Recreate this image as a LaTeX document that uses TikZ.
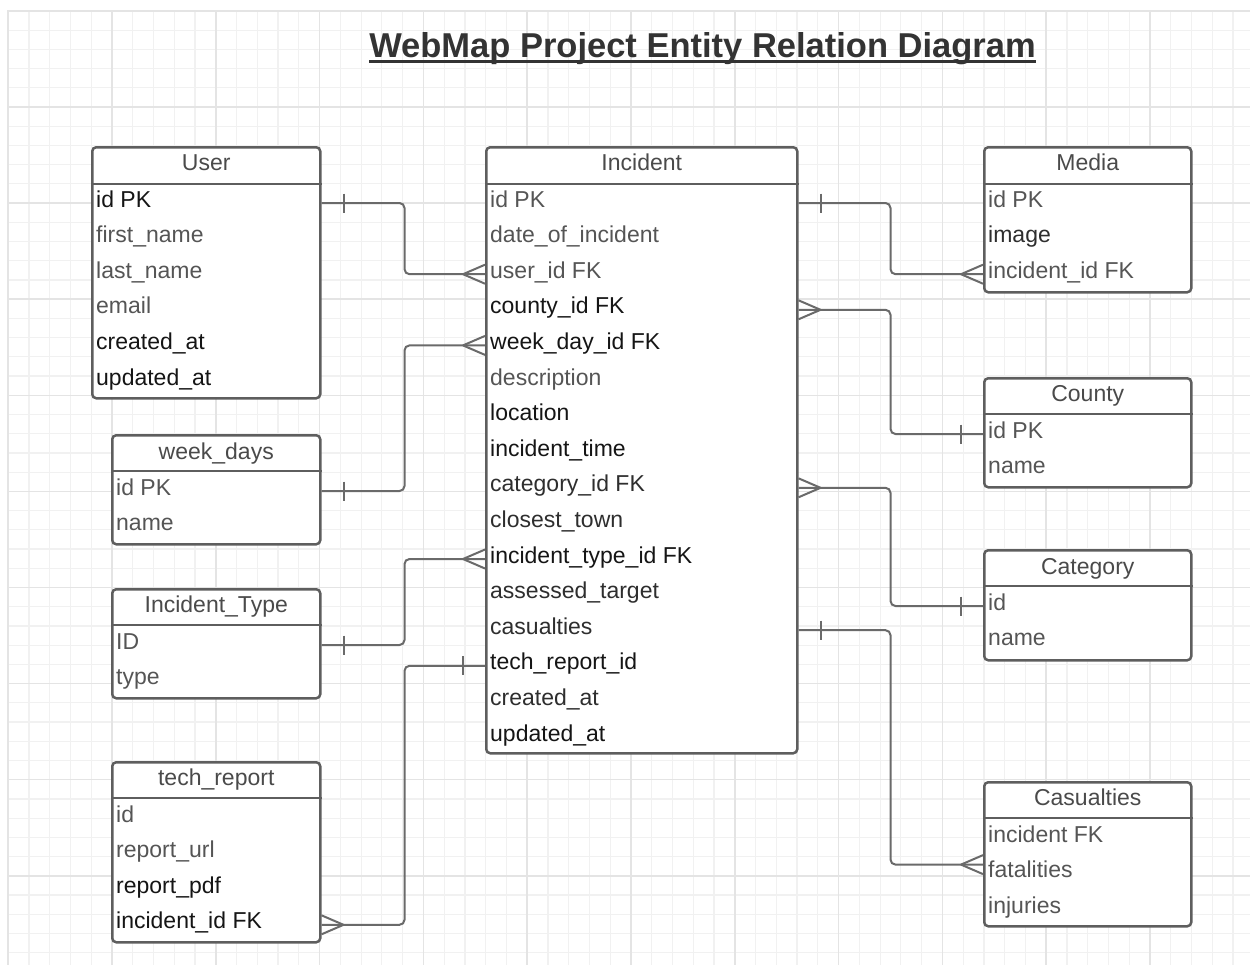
\documentclass[tikz,border=0pt]{standalone}
\usepackage{fontspec}
\setmainfont{Liberation Sans}
\definecolor{gridmin}{HTML}{F1F1F1}
\definecolor{gridmaj}{HTML}{E4E4E4}
\definecolor{boxline}{HTML}{5E5E5E}
\definecolor{relline}{HTML}{6A6A6A}
\definecolor{hd}{HTML}{4A4A4A}
\definecolor{dk}{HTML}{151515}
\definecolor{md}{HTML}{2E2E2E}
\definecolor{lt}{HTML}{555555}
\definecolor{ttl}{HTML}{333333}

\begin{document}
\begin{tikzpicture}[x=1pt, y=-1pt,
    tbl/.style={draw=boxline, fill=white, line width=2.5pt, rounded corners=4pt, anchor=north west, inner sep=0pt},
    sep/.style={draw=boxline, line width=2.5pt},
    hdr/.style={anchor=base, inner sep=0pt, text=hd, font=\fontsize{23}{27}\selectfont},
    fld/.style={anchor=base west, inner sep=0pt, text height=16pt, text depth=8pt, font=\fontsize{23}{27}\selectfont},
    rel/.style={draw=relline, line width=2pt, rounded corners=5pt},
    crowfoot/.pic={\draw[rel] (-22,0) -- (0,-9.5) (-22,0) -- (0,9.5);},
    onebar/.pic={\draw[rel] (22,-9.5) -- (22,9.5);}]
    \useasboundingbox (0,0) rectangle (1250,967);
    \fill[white] (0,0) rectangle (1250,967);
    % background grid
    \foreach \i in {0,...,59} \draw[gridmin, line width=1.2pt] ({8.2+20.76*\i},10) -- ({8.2+20.76*\i},965);
    \foreach \j in {0,...,49} \draw[gridmin, line width=1.2pt] (7,{10.9+19.22*\j}) -- (1250,{10.9+19.22*\j});
    \foreach \i in {0,...,11} \draw[gridmaj, line width=1.5pt] ({8.2+103.8*\i},10) -- ({8.2+103.8*\i},965);
    \foreach \j in {0,...,9} \draw[gridmaj, line width=1.5pt] (7,{10.9+96.1*\j}) -- (1250,{10.9+96.1*\j});

    \node[anchor=base, inner sep=0pt, text=ttl, font=\fontsize{34.5}{40}\selectfont\bfseries] (title) at (702.5,57) {WebMap Project Entity Relation Diagram};
    \draw[ttl, line width=3pt] ([yshift=-4.5]title.base west) -- ([yshift=-4.5]title.base east);

    % User
    \node[tbl, minimum width=228pt, minimum height=251pt] (user) at (91,146) {};
    \draw[sep] ([yshift=-38]user.north west) -- ([yshift=-38]user.north east);
    \node[hdr] at ([yshift=-24]user.north) {User};
    \foreach \t/\c [count=\i] in {id PK/dk, first\_name/lt, last\_name/lt, email/lt, created\_at/dk, updated\_at/dk}
        \node[fld, text=\c] (user-\i) at ([xshift=5, yshift={-(61+35.6*(\i-1))}]user.north west) {\t};

    % week_days
    \node[tbl, minimum width=208pt, minimum height=109pt] (weekdays) at (111,434) {};
    \draw[sep] ([yshift=-37]weekdays.north west) -- ([yshift=-37]weekdays.north east);
    \node[hdr] at ([yshift=-25]weekdays.north) {week\_days};
    \foreach \t/\c [count=\i] in {id PK/lt, name/lt}
        \node[fld, text=\c] (weekdays-\i) at ([xshift=5, yshift={-(61+35.6*(\i-1))}]weekdays.north west) {\t};

    % Incident_Type
    \node[tbl, minimum width=208pt, minimum height=109pt] (itype) at (111,588) {};
    \draw[sep] ([yshift=-37]itype.north west) -- ([yshift=-37]itype.north east);
    \node[hdr] at ([yshift=-24]itype.north) {Incident\_Type};
    \foreach \t/\c [count=\i] in {ID/lt, type/lt}
        \node[fld, text=\c] (itype-\i) at ([xshift=5, yshift={-(61+35.6*(\i-1))}]itype.north west) {\t};

    % tech_report
    \node[tbl, minimum width=208pt, minimum height=180pt] (techreport) at (111,761) {};
    \draw[sep] ([yshift=-37]techreport.north west) -- ([yshift=-37]techreport.north east);
    \node[hdr] at ([yshift=-24]techreport.north) {tech\_report};
    \foreach \t/\c [count=\i] in {id/lt, report\_url/lt, report\_pdf/dk, incident\_id FK/dk}
        \node[fld, text=\c] (techreport-\i) at ([xshift=5, yshift={-(61+35.6*(\i-1))}]techreport.north west) {\t};

    % Incident
    \node[tbl, minimum width=311pt, minimum height=606pt] (incident) at (485,146) {};
    \draw[sep] ([yshift=-38]incident.north west) -- ([yshift=-38]incident.north east);
    \node[hdr] at ([yshift=-24]incident.north) {Incident};
    \foreach \t/\c [count=\i] in {id PK/lt, date\_of\_incident/lt, user\_id FK/lt, county\_id FK/dk, week\_day\_id FK/dk,
        description/lt, location/dk, incident\_time/dk, category\_id FK/md, closest\_town/md, incident\_type\_id FK/dk,
        assessed\_target/md, casualties/md, tech\_report\_id/dk, created\_at/md, updated\_at/dk}
        \node[fld, text=\c] (incident-\i) at ([xshift=5, yshift={-(61+35.6*(\i-1))}]incident.north west) {\t};

    % Media
    \node[tbl, minimum width=207pt, minimum height=145pt] (media) at (983,146) {};
    \draw[sep] ([yshift=-38]media.north west) -- ([yshift=-38]media.north east);
    \node[hdr] at ([yshift=-24]media.north) {Media};
    \foreach \t/\c [count=\i] in {id PK/lt, image/md, incident\_id FK/lt}
        \node[fld, text=\c] (media-\i) at ([xshift=5, yshift={-(61+35.6*(\i-1))}]media.north west) {\t};

    % County
    \node[tbl, minimum width=207pt, minimum height=109pt] (county) at (983,377) {};
    \draw[sep] ([yshift=-37]county.north west) -- ([yshift=-37]county.north east);
    \node[hdr] at ([yshift=-24]county.north) {County};
    \foreach \t/\c [count=\i] in {id PK/lt, name/lt}
        \node[fld, text=\c] (county-\i) at ([xshift=5, yshift={-(61+35.6*(\i-1))}]county.north west) {\t};

    % Category
    \node[tbl, minimum width=207pt, minimum height=110pt] (category) at (983,549) {};
    \draw[sep] ([yshift=-37]category.north west) -- ([yshift=-37]category.north east);
    \node[hdr] at ([yshift=-25]category.north) {Category};
    \foreach \t/\c [count=\i] in {id/lt, name/lt}
        \node[fld, text=\c] (category-\i) at ([xshift=5, yshift={-(61+35.6*(\i-1))}]category.north west) {\t};

    % Casualties
    \node[tbl, minimum width=207pt, minimum height=144pt] (casualties) at (983,781) {};
    \draw[sep] ([yshift=-37]casualties.north west) -- ([yshift=-37]casualties.north east);
    \node[hdr] at ([yshift=-24]casualties.north) {Casualties};
    \foreach \t/\c [count=\i] in {incident FK/lt, fatalities/lt, injuries/lt}
        \node[fld, text=\c] (casualties-\i) at ([xshift=5, yshift={-(61+35.6*(\i-1))}]casualties.north west) {\t};

    % relations, left side
    \draw[rel] (user.east |- user-1) -- ++(83,0) |- (incident.west |- incident-3);
    \pic at (user.east |- user-1) {onebar};
    \pic at (incident.west |- incident-3) {crowfoot};
    \draw[rel] (weekdays.east |- weekdays-1) -- ++(83,0) |- (incident.west |- incident-5);
    \pic at (weekdays.east |- weekdays-1) {onebar};
    \pic at (incident.west |- incident-5) {crowfoot};
    \draw[rel] (itype.east |- itype-1) -- ++(83,0) |- (incident.west |- incident-11);
    \pic at (itype.east |- itype-1) {onebar};
    \pic at (incident.west |- incident-11) {crowfoot};
    \draw[rel] (techreport.east |- techreport-4) -- ++(83,0) |- (incident.west |- incident-14);
    \pic[xscale=-1] at (techreport.east |- techreport-4) {crowfoot};
    \pic[xscale=-1] at (incident.west |- incident-14) {onebar};

    % relations, right side
    \draw[rel] (incident.east |- incident-1) -- ++(92,0) |- (media.west |- media-3);
    \pic at (incident.east |- incident-1) {onebar};
    \pic at (media.west |- media-3) {crowfoot};
    \draw[rel] (incident.east |- incident-4) -- ++(92,0) |- (county.west |- county-1);
    \pic[xscale=-1] at (incident.east |- incident-4) {crowfoot};
    \pic[xscale=-1] at (county.west |- county-1) {onebar};
    \draw[rel] (incident.east |- incident-9) -- ++(92,0) |- (category.west |- category-1);
    \pic[xscale=-1] at (incident.east |- incident-9) {crowfoot};
    \pic[xscale=-1] at (category.west |- category-1) {onebar};
    \path (casualties.west |- casualties-2) ++(0,-9) coordinate (cas-in);
    \draw[rel] (incident.east |- incident-13) -- ++(92,0) |- (cas-in);
    \pic at (incident.east |- incident-13) {onebar};
    \pic at (cas-in) {crowfoot};
\end{tikzpicture}
\end{document}
